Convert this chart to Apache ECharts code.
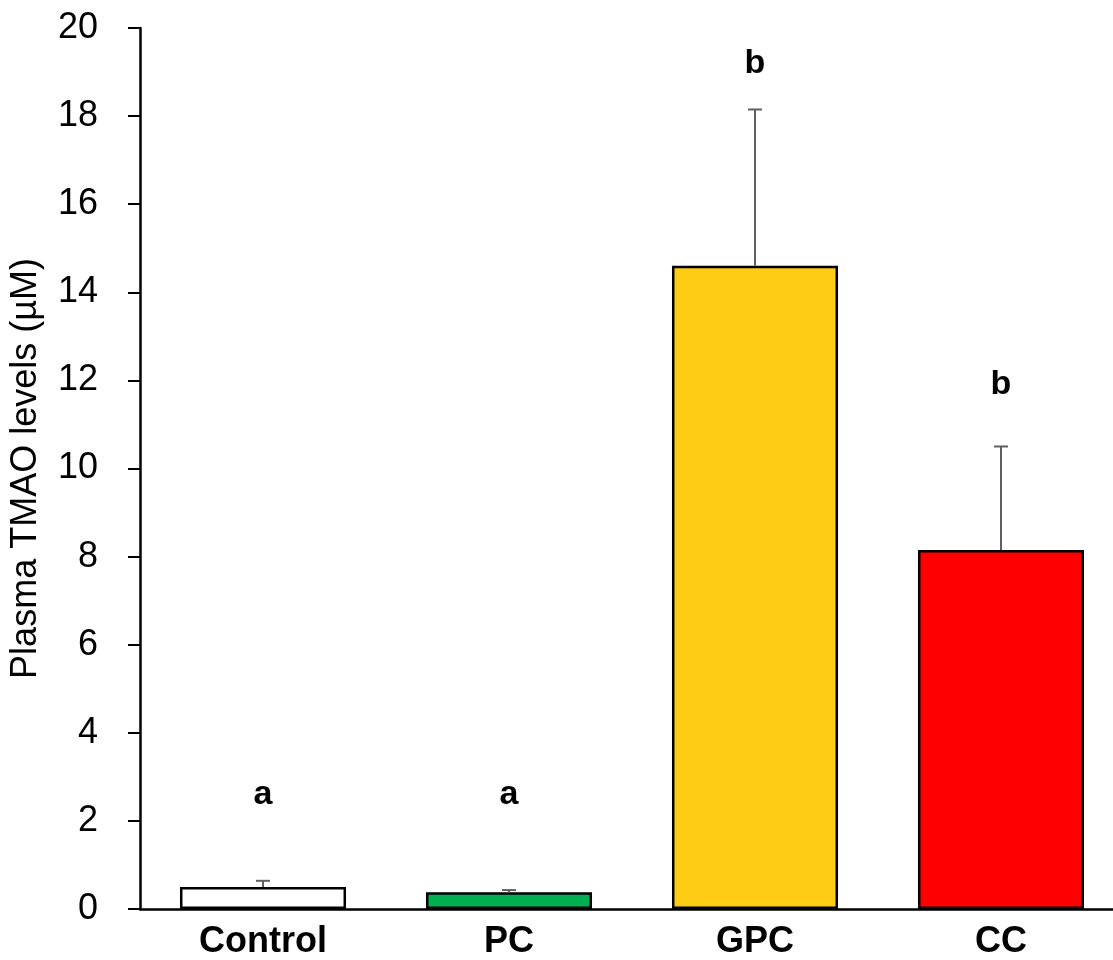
<!DOCTYPE html>
<html>
<head>
<meta charset="utf-8">
<script src="https://cdn.jsdelivr.net/npm/echarts@6/dist/echarts.min.js"></script>
<style>html,body{margin:0;padding:0;background:#fff;overflow:hidden;}#c{width:1124px;height:960px;}</style>
</head>
<body>
<div id="c"></div>
<script>
const categories = ['Control', 'PC', 'GPC', 'CC'];
const means = [0.5, 0.38, 14.6, 8.15];
const errorTops = [0.64, 0.43, 18.15, 10.5];
const letters = ['a', 'a', 'b', 'b'];
const letterPos = [2.6, 2.6, 19.2, 11.9];
const barColors = ['#FFFFFF', '#00B050', '#FFCC15', '#FF0000'];
const yTicks = [0, 2, 4, 6, 8, 10, 12, 14, 16, 18, 20];

const FONT = 'Liberation Sans, Arial, sans-serif';
const chart = echarts.init(document.getElementById('c'));
chart.setOption({
  animation: false,
  backgroundColor: '#fff',
  grid: { left: 140, right: 0, top: 28, bottom: 50, containLabel: false },
  xAxis: {
    type: 'category',
    data: categories,
    axisLine: { lineStyle: { color: '#000', width: 2.5 } },
    axisTick: { show: false },
    axisLabel: { color: '#000', fontSize: 36, fontWeight: 'bold', fontFamily: FONT, margin: 15 }
  },
  yAxis: {
    type: 'value',
    min: yTicks[0], max: yTicks[yTicks.length - 1], interval: 2,
    name: 'Plasma TMAO levels (µM)',
    nameLocation: 'middle',
    nameGap: 96,
    nameTextStyle: { color: '#000', fontSize: 36, fontFamily: FONT },
    axisLine: { show: true, lineStyle: { color: '#000', width: 2.5 } },
    axisTick: { show: true, inside: false, length: 12, lineStyle: { color: '#000', width: 2 } },
    axisLabel: { color: '#000', fontSize: 36, fontFamily: FONT, margin: 42 },
    splitLine: { show: false }
  },
  series: [
    {
      type: 'bar',
      barWidth: '67.5%',
      data: means.map((v, i) => ({ value: v, itemStyle: { color: barColors[i], borderColor: '#000', borderWidth: 2.5 } })),
      z: 2
    },
    {
      type: 'custom',
      data: means.map((v, i) => [i, v, errorTops[i]]),
      renderItem: function (params, api) {
        const base = api.coord([api.value(0), api.value(1)]);
        const top = api.coord([api.value(0), api.value(2)]);
        const hw = 7;
        const st = { stroke: '#606060', lineWidth: 2 };
        return {
          type: 'group',
          children: [
            { type: 'line', shape: { x1: base[0], y1: base[1], x2: top[0], y2: top[1] }, style: st },
            { type: 'line', shape: { x1: top[0] - hw, y1: top[1], x2: top[0] + hw, y2: top[1] }, style: st }
          ]
        };
      },
      z: 3
    },
    {
      type: 'custom',
      data: letterPos.map((v, i) => [i, v]),
      renderItem: function (params, api) {
        const p = api.coord([api.value(0), api.value(1)]);
        return {
          type: 'text',
          x: p[0], y: p[1],
          style: {
            text: letters[params.dataIndex],
            fill: '#000000',
            font: 'bold 34px ' + FONT,
            align: 'center',
            verticalAlign: 'middle'
          }
        };
      },
      z: 4
    }
  ]
});
</script>
</body>
</html>
